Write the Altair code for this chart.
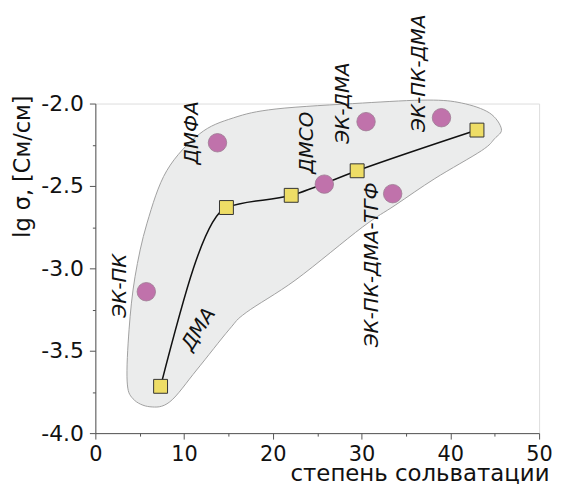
import altair as alt
import pandas as pd

# squares (fitted curve)
sq_x = [7.35, 14.77, 22.07, 29.5, 43.0]
sq_y = [-3.716, -2.631, -2.557, -2.408, -2.161]
# circles
circ_x = [5.74, 13.76, 25.8, 30.5, 39.0, 33.5]
circ_y = [-3.142, -2.238, -2.489, -2.110, -2.086, -2.547]
# labels
lab_text = ["ЭК-ПК", "ДМФА", "ДМСО", "ЭК-ДМА", "ЭК-ПК-ДМА", "ЭК-ПК-ДМА-ТГФ", "ДМА"]
lab_x = [2.80, 10.85, 23.83, 27.96, 36.47, 31.2, 11.63]
lab_y = [-3.105, -2.178, -2.238, -1.997, -1.816, -2.979, -3.370]
lab_angle = [270, 270, 270, 270, 270, 270, 302]
# shaded region outline
blob_x = [3.58, 3.80, 4.47, 5.82, 8.05, 11.74, 15.55, 20.36, 30.09, 37.47, 41.28, 44.41,
          45.75, 44.97, 43.51, 38.26, 33.78, 30.09, 22.60, 17.00, 15.10, 11.41, 8.39, 6.15, 4.25]
blob_y = [-3.684, -3.370, -3.051, -2.726, -2.407, -2.184, -2.087, -2.033, -1.997, -1.979, -1.997, -2.057,
          -2.154, -2.214, -2.286, -2.455, -2.617, -2.750, -3.069, -3.268, -3.370, -3.617, -3.810, -3.840, -3.792]

x_ticks = [0, 5, 10, 15, 20, 25, 30, 35, 40, 45, 50]
y_ticks = [-4.0, -3.75, -3.5, -3.25, -3.0, -2.75, -2.5, -2.25, -2.0]

FONT = "DejaVu Sans"

sq = pd.DataFrame({"x": sq_x, "y": sq_y})
circ = pd.DataFrame({"x": circ_x, "y": circ_y})
labs = pd.DataFrame({"t": lab_text, "x": lab_x, "y": lab_y, "a": lab_angle})
blob = pd.DataFrame({"x": blob_x, "y": blob_y, "i": list(range(len(blob_x)))})

xscale = alt.Scale(domain=[0, 50], nice=False, zero=False)
yscale = alt.Scale(domain=[-4.0, -2.0], nice=False, zero=False)

xaxis = alt.Axis(
    values=x_ticks,
    labelExpr="datum.value % 10 === 0 ? datum.label : ''",
    tickSize={"condition": {"test": "datum.value % 10 === 0", "value": 6}, "value": 3},
    title="степень сольватации",
    titleAlign="right", titleAnchor="end",
    titleX=457, titleY=47.5, titleBaseline="alphabetic",
    titleFontSize=23, titleFontWeight="normal", titleFont=FONT, titleColor="#111",
    labelFontSize=21, labelFont=FONT, labelColor="#111", labelPadding=5,
    domainColor="#555", tickColor="#555", grid=False, labelFlush=False,
)
yaxis = alt.Axis(
    values=y_ticks,
    labelExpr="round(datum.value * 2) == datum.value * 2 ? replace(format(datum.value, '.1f'), '\u2212', '-') : ''",
    tickSize={"condition": {"test": "round(datum.value * 2) == datum.value * 2", "value": 6}, "value": 3},
    title="lg σ, [См/см]",
    titleAngle=270, titleAlign="center", titleBaseline="alphabetic",
    titleX=-66, titleY=63,
    titleFontSize=22.5, titleFontWeight="normal", titleFont=FONT, titleColor="#111",
    labelFontSize=22, labelFont=FONT, labelColor="#111", labelPadding=6,
    domainColor="#555", tickColor="#555", grid=False, labelFlush=False,
)

base_x = alt.X("x:Q", scale=xscale, axis=xaxis)
base_y = alt.Y("y:Q", scale=yscale, axis=yaxis)

region = alt.Chart(blob).mark_line(
    interpolate="cardinal-closed", fill="#EBECEC", stroke="#A0A0A0", strokeWidth=1
).encode(x=base_x, y=base_y, order=alt.Order("i:Q"))

curve = alt.Chart(sq).mark_line(interpolate="monotone", color="#111", strokeWidth=1.5).encode(
    x=alt.X("x:Q", scale=xscale), y=alt.Y("y:Q", scale=yscale)
)

squares = alt.Chart(sq).mark_point(
    shape="square", filled=True, fill="#EEDD66", stroke="#333", strokeWidth=1, size=196, opacity=1
).encode(x=alt.X("x:Q", scale=xscale), y=alt.Y("y:Q", scale=yscale))

circles = alt.Chart(circ).mark_circle(
    fill="#C072AB", stroke="#9C7A92", strokeWidth=0.8, size=346, opacity=1
).encode(x=alt.X("x:Q", scale=xscale), y=alt.Y("y:Q", scale=yscale))

labels = alt.Chart(labs).mark_text(
    font=FONT, fontSize=20, fontStyle="italic", color="#111", align="center", baseline="middle"
).encode(
    x=alt.X("x:Q", scale=xscale), y=alt.Y("y:Q", scale=yscale),
    text="t:N", angle=alt.Angle("a:Q", scale=None)
)

chart = alt.layer(region, curve, squares, circles, labels).properties(
    width=447, height=332,
    padding={"left": 88, "top": 94.5, "right": 14, "bottom": 49},
    autosize=alt.AutoSizeParams(type="none"),
).configure_view(stroke=None).configure(background="white")

chart.save("out.html", embed_options={"renderer": "svg", "actions": False})
